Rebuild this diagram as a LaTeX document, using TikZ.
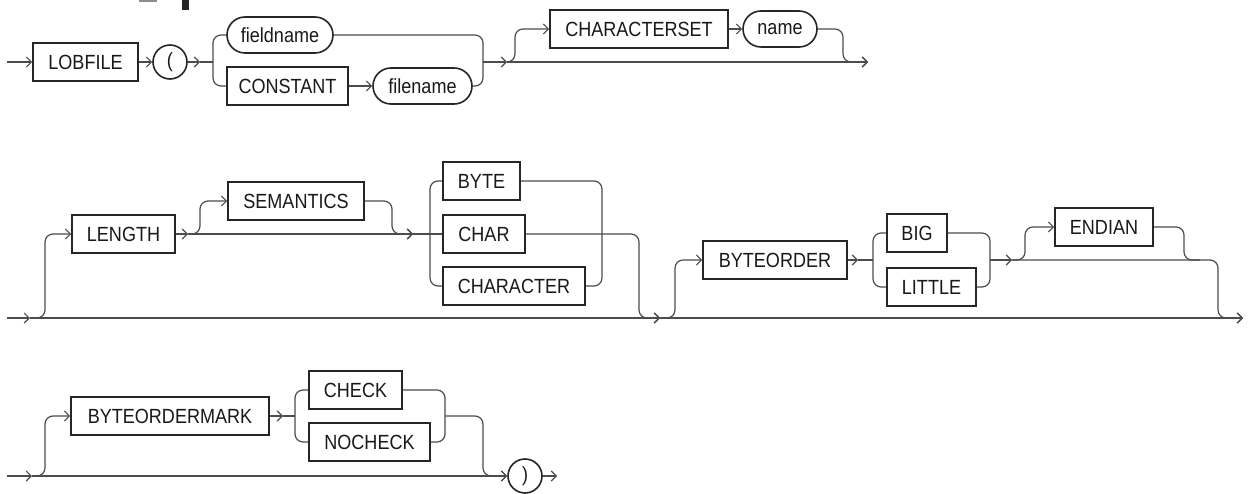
\documentclass[tikz,border=0pt]{standalone}
\usepackage{fontspec}
\setmainfont[FakeStretch=0.88]{Liberation Sans}
\usetikzlibrary{arrows.meta,shapes.misc}
\begin{document}
\begin{tikzpicture}[x=1pt,y=-1pt,
  conn/.style={line width=1.2pt, draw=black!70, rounded corners=8pt},
  arr/.style={-{Straight Barb[length=5pt,width=10pt]}},
  kw/.style={draw=black!85, line width=1.6pt, minimum height=38pt, inner sep=0pt,
             font=\fontsize{20.5}{22}\selectfont, text=black!90},
  ident/.style={kw, rounded rectangle, minimum height=36pt},
  term/.style={kw, circle, minimum size=34pt},
]
\useasboundingbox (0,0) rectangle (1249,494);
\fill[white] (0,0) rectangle (1249,494);
% cut-off heading fragment
\fill[black!45] (139,0) rectangle (157,2);
\fill[black!85] (182,0) rectangle (189,10);

% ---------- Row 1 ----------
\node[kw, minimum width=105pt] (lobfile) at (85.5,62) {LOBFILE};
\node[term] (lp) at (170,62) {(};
\node[ident, minimum width=106pt] (fieldname) at (280,35) {fieldname};
\node[kw, minimum width=121pt] (constant) at (287.5,86) {CONSTANT};
\node[ident, minimum width=99pt] (filename) at (422.5,86) {filename};
\node[kw, minimum width=178pt] (charset) at (639,29) {CHARACTERSET};
\node[ident, minimum width=74pt] (name) at (780,29) {name};

\coordinate (r1s) at (7,62);
\coordinate (r1a) at (200,62);
\coordinate (r1b) at (213,62);
\coordinate (r1c) at (483,62);
\coordinate (r1d) at (507,62);
\coordinate (r1e) at (868,62);

\draw[conn,arr] (r1s) -- (lobfile);
\draw[conn,arr] (lobfile) -- (lp);
\draw[conn,arr] (lp) -- (r1a);
\draw[conn] (r1a) -- (r1b);
\draw[conn] (fieldname.west) -| (r1b) |- (constant.west);
\draw[conn] (fieldname.east) -| (r1c) |- (filename.east);
\draw[conn,arr] (constant) -- (filename);
\draw[conn,arr] (r1c) -- (r1d);
\draw[conn,arr] (r1d) -- (r1e);
\draw[conn,arr] (r1d) -| (515,29) -- (charset.west);
\draw[conn,arr] (charset) -- (name);
\draw[conn,arr] (name.east) -| (843,62) -- (r1e);

% ---------- Row 2 ----------
\node[kw, minimum width=103pt] (length) at (123.5,234) {LENGTH};
\node[kw, minimum width=136pt] (semantics) at (296,201) {SEMANTICS};
\node[kw, minimum width=77pt] (byte) at (481.5,181) {BYTE};
\node[kw, minimum width=82pt] (char) at (484,234) {CHAR};
\node[kw, minimum width=142pt] (character) at (514,286) {CHARACTER};
\node[kw, minimum width=144pt] (byteorder) at (775,260) {BYTEORDER};
\node[kw, minimum width=60pt] (big) at (917,233) {BIG};
\node[kw, minimum width=89pt] (little) at (931.5,287) {LITTLE};
\node[kw, minimum width=98pt] (endian) at (1104,227) {ENDIAN};

\coordinate (r2s) at (7,318);
\coordinate (r2a) at (30,318);
\coordinate (r2b) at (188,234);
\coordinate (r2c) at (413,234);
\coordinate (r2d) at (430,234);
\coordinate (r2e) at (602,234);
\coordinate (r2f) at (660,318);
\coordinate (r2g) at (858,260);
\coordinate (r2h) at (873,260);
\coordinate (r2i) at (990,260);
\coordinate (r2j) at (1012,260);
\coordinate (r2k) at (1243,318);

\draw[conn,arr] (r2s) -- (r2a);
\draw[conn,arr] (r2a) -- (r2f);
\draw[conn,arr] (r2f) -- (r2k);
\draw[conn,arr] (r2a) -| (45,234) -- (length.west);
\draw[conn,arr] (length) -- (r2b);
\draw[conn,arr] (r2b) -- (r2c);
\draw[conn,arr] (r2b) -| (200,201) -- (semantics.west);
\draw[conn,arr] (semantics.east) -| (392,234) -- (r2c);
\draw[conn] (r2c) -- (char.west);
\draw[conn] (byte.west) -| (r2d) |- (character.west);
\draw[conn] (byte.east) -| (r2e) |- (character.east);
\draw[conn,arr] (char.east) -| (639,318) -- (r2f);
\draw[conn,arr] (r2f) -| (675,260) -- (byteorder.west);
\draw[conn,arr] (byteorder) -- (r2g);
\draw[conn] (r2g) -- (r2h);
\draw[conn] (big.west) -| (r2h) |- (little.west);
\draw[conn] (big.east) -| (r2i) |- (little.east);
\draw[conn,arr] (r2i) -- (r2j);
\draw[conn,arr] (r2j) -| (1025,227) -- (endian.west);
\draw[conn] (endian.east) -| (1184,260) -- (1200,260);
\draw[conn,arr] (r2j) -| (1218,318) -- (r2k);

% ---------- Row 3 ----------
\node[kw, minimum width=198pt] (bom) at (170,416) {BYTEORDERMARK};
\node[kw, minimum width=93pt] (check) at (355.5,390) {CHECK};
\node[kw, minimum width=121pt] (nocheck) at (369.5,442) {NOCHECK};
\node[term] (rp) at (525,476) {)};

\coordinate (r3s) at (7,476);
\coordinate (r3a) at (32,476);
\coordinate (r3b) at (283,416);
\coordinate (r3c) at (295,416);
\coordinate (r3d) at (445,416);
\coordinate (r3e) at (557,476);

\draw[conn,arr] (r3s) -- (r3a);
\draw[conn,arr] (r3a) -- (rp);
\draw[conn,arr] (r3a) -| (45,416) -- (bom.west);
\draw[conn,arr] (bom) -- (r3b);
\draw[conn] (r3b) -- (r3c);
\draw[conn] (check.west) -| (r3c) |- (nocheck.west);
\draw[conn] (check.east) -| (r3d) |- (nocheck.east);
\draw[conn,arr] (r3d) -| (483,476) -- (rp);
\draw[conn,arr] (rp) -- (r3e);
\end{tikzpicture}
\end{document}
